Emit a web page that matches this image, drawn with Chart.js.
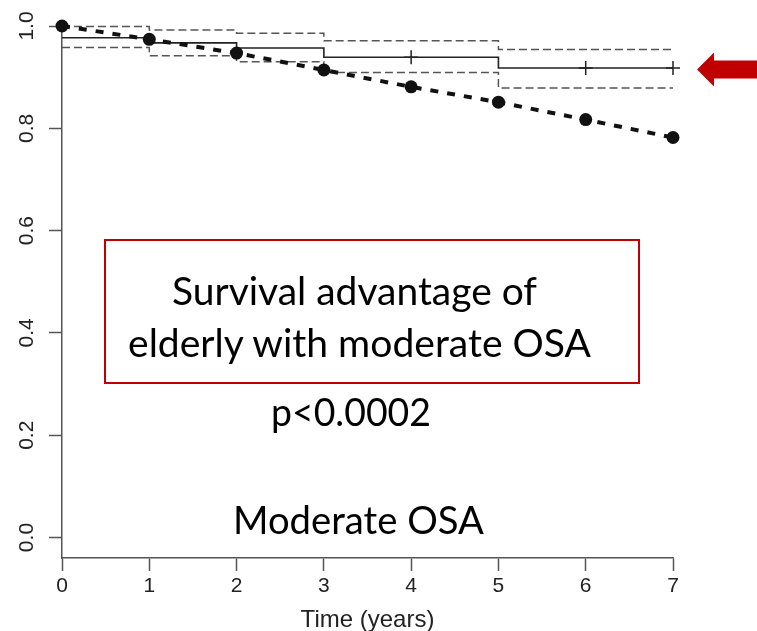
<!DOCTYPE html>
<html>
<head>
<meta charset="utf-8">
<script src="https://cdn.jsdelivr.net/npm/chart.js@4/dist/chart.umd.min.js"></script>
<style>
  html, body { margin: 0; padding: 0; background: #fff; }
  #wrap { position: relative; width: 757px; height: 631px; overflow: hidden; }
  #c { position: absolute; left: 0; top: 0; }
  #ov { position: absolute; left: 0; top: 0; pointer-events: none; }
  #ov text { font-family: Lato, "Noto Sans", sans-serif; fill: #000; }
</style>
</head>
<body>
<div id="wrap">
  <canvas id="c" width="757" height="631"></canvas>
  <svg id="ov" width="757" height="631" xmlns="http://www.w3.org/2000/svg">
    <rect x="105" y="240" width="534" height="143" fill="none" stroke="#C00000" stroke-width="2"/>
    <text x="354.5" y="304.5" font-size="39" text-anchor="middle" textLength="365" lengthAdjust="spacingAndGlyphs">Survival advantage of</text>
    <text x="359.5" y="357" font-size="39" text-anchor="middle" textLength="463" lengthAdjust="spacingAndGlyphs">elderly with moderate OSA</text>
    <text x="351" y="426" font-size="39" text-anchor="middle" textLength="160" lengthAdjust="spacingAndGlyphs">p&lt;0.0002</text>
    <text x="358.5" y="534" font-size="39" text-anchor="middle" textLength="251" lengthAdjust="spacingAndGlyphs">Moderate OSA</text>
    <polygon points="697,69.5 714,52.5 714,60.5 757,60.5 757,78.5 714,78.5 714,86.5" fill="#C00000"/>
  </svg>
</div>
<script>
// ---- data ----
const years = [0, 1, 2, 3, 4, 5, 6, 7];
const expectedSurv = [1.0, 0.974, 0.947, 0.914, 0.881, 0.851, 0.817, 0.782];

const kmTimes = [0, 1, 2, 3, 5, 7];
const kmSurv  = [0.977, 0.967, 0.957, 0.939, 0.918, 0.918];
const kmUpper = [0.999, 0.992, 0.986, 0.971, 0.954, 0.954];
const kmLower = [0.958, 0.942, 0.930, 0.909, 0.879, 0.879];

const censorTimes = [4, 6, 7];
const censorSurv  = [0.939, 0.918, 0.918];

const xTicks = [0, 1, 2, 3, 4, 5, 6, 7];
const yTicks = [0.0, 0.2, 0.4, 0.6, 0.8, 1.0];
const xTitle = 'Time (years)';

const pts = (xs, ys) => xs.map((x, i) => ({x: x, y: ys[i]}));

const tickFont = {family: '"Liberation Sans", Arial, sans-serif', size: 21};
const tickColor = '#222';

const yLabelPlugin = {
  id: 'yLabels',
  afterDraw(chart) {
    const s = chart.scales.y;
    const ctx = chart.ctx;
    ctx.save();
    ctx.fillStyle = tickColor;
    ctx.font = tickFont.size + 'px ' + tickFont.family;
    ctx.textAlign = 'center';
    ctx.textBaseline = 'middle';
    yTicks.forEach(v => {
      const py = s.getPixelForValue(v);
      ctx.save();
      ctx.translate(27.5, py);
      ctx.rotate(-Math.PI / 2);
      ctx.fillText(v.toFixed(1), 0, 0);
      ctx.restore();
    });
    ctx.restore();
  }
};

new Chart(document.getElementById('c'), {
  type: 'line',
  data: {
    datasets: [
      {
        label: 'Expected',
        data: pts(years, expectedSurv),
        borderColor: '#111',
        borderWidth: 4,
        borderDash: [8, 9],
        pointRadius: 6.5,
        pointBackgroundColor: '#111',
        pointBorderColor: '#111',
        pointBorderWidth: 0,
        tension: 0,
        clip: false
      },
      {
        label: 'Censored',
        data: pts(censorTimes, censorSurv),
        showLine: false,
        pointStyle: 'cross',
        pointRadius: 7,
        pointBorderColor: '#222',
        pointBorderWidth: 1.5,
        clip: false
      },
      {
        label: 'KM',
        data: pts(kmTimes, kmSurv),
        stepped: 'before',
        borderColor: '#222',
        borderWidth: 1.6,
        pointRadius: 0,
        clip: false
      },
      {
        label: 'Upper CI',
        data: pts(kmTimes, kmUpper),
        stepped: 'before',
        borderColor: '#555',
        borderWidth: 1.5,
        borderDash: [8, 4],
        pointRadius: 0,
        clip: false
      },
      {
        label: 'Lower CI',
        data: pts(kmTimes, kmLower),
        stepped: 'before',
        borderColor: '#555',
        borderWidth: 1.5,
        borderDash: [8, 4],
        pointRadius: 0,
        clip: false
      }
    ]
  },
  options: {
    responsive: false,
    animation: false,
    layout: {padding: {top: 26, right: 84, left: 0, bottom: 0}},
    plugins: {legend: {display: false}, tooltip: {enabled: false}},
    scales: {
      x: {
        type: 'linear',
        min: 0,
        max: 7,
        afterBuildTicks: s => { s.ticks = xTicks.map(v => ({value: v})); },
        afterFit: s => { s.height = 73; },
        grid: {drawOnChartArea: false, drawTicks: true, tickLength: 13, tickColor: '#555', tickWidth: 1.5},
        border: {display: true, color: '#555', width: 1.5},
        ticks: {font: tickFont, color: tickColor, padding: 3, maxRotation: 0, autoSkip: false},
        title: {display: true, text: xTitle, font: {family: tickFont.family, size: 24}, color: tickColor, padding: {top: 0, bottom: -4}}
      },
      y: {
        type: 'linear',
        min: -0.04,
        max: 1.0,
        afterBuildTicks: s => { s.ticks = yTicks.map(v => ({value: v})); },
        afterFit: s => { s.width = 62; },
        grid: {drawOnChartArea: false, drawTicks: true, tickLength: 13, tickColor: '#555', tickWidth: 1.5},
        border: {display: true, color: '#555', width: 1.5},
        ticks: {font: tickFont, color: 'rgba(0,0,0,0)', padding: 2}
      }
    }
  },
  plugins: [yLabelPlugin]
});
</script>
</body>
</html>
